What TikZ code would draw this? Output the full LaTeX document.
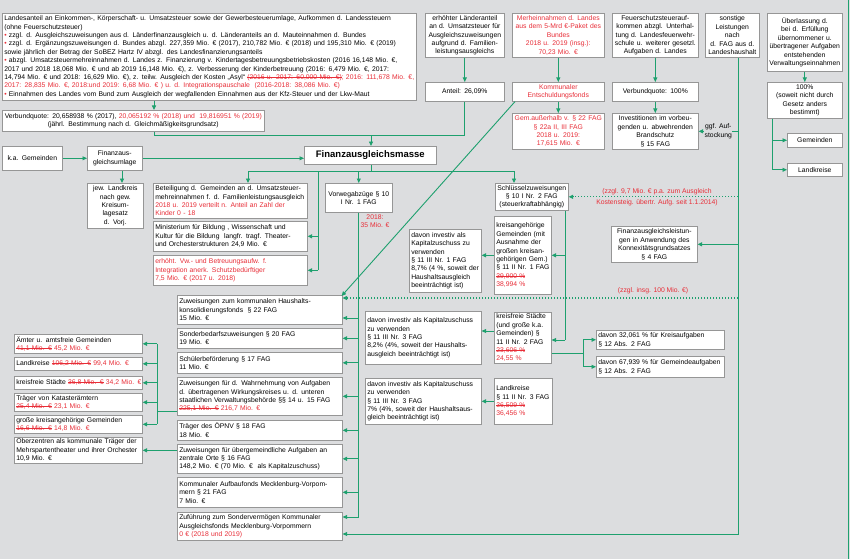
\documentclass[tikz,border=0pt]{standalone}
\usepackage{fontspec}
\setmainfont{Liberation Sans}
\usetikzlibrary{arrows.meta,calc}
\definecolor{bg}{RGB}{220,221,223}
\definecolor{grn}{RGB}{30,160,110}
\definecolor{rd}{RGB}{232,45,55}
\definecolor{bd}{RGB}{150,150,150}
\newcommand\myfs{\fontsize{6.8}{8.4}\selectfont\hyphenpenalty=10000\exhyphenpenalty=10000\relax}
\newcommand\rt[1]{\textcolor{rd}{#1}}
\newsavebox\mystbox
\newcommand\rs[1]{\textcolor{rd}{\sbox\mystbox{#1}\rlap{\rule[0.3em]{\wd\mystbox}{0.5pt}}\usebox\mystbox}}
\begin{document}
\begin{tikzpicture}[x=1pt,y=-1pt,
  bx/.style={draw=bd, fill=white, line width=0.6pt, anchor=north west, inner xsep=2pt, inner ysep=1pt, font=\myfs, align=left},
  cb/.style={bx, align=center},
  wh/.code 2 args={\pgfmathsetlengthmacro\mytw{#1pt-4pt}\edef\mytmp{\noexpand\tikzset{minimum width=#1pt,minimum height=#2pt,text width=\mytw}}\mytmp},
  ln/.style={draw=grn, line width=0.9pt},
  ar/.style={ln, -{Triangle[length=4.5pt,width=4pt]}},
  dar/.style={ar, dash pattern=on 1.2pt off 1.8pt, line width=1.1pt},
  rl/.style={font=\myfs, text=rd, align=center, inner sep=0pt},
  lab/.style={font=\myfs, align=center, fill=bg, inner sep=0.5pt}]
\fill[bg] (0,0) rectangle (850,559);
\useasboundingbox (0,0) rectangle (850,559);

% ---------- top row ----------
\node[bx,wh={414}{87}] (A) at (2,13) {Landesanteil an Einkommen-, Körperschaft- u. Umsatzsteuer sowie der Gewerbesteuerumlage, Aufkommen d. Landessteuern\\
(ohne Feuerschutzsteuer)\\
\rt{•} zzgl. d. Ausgleichszuweisungen aus d. Länderfinanzausgleich u. d. Länderanteils an d. Mauteinnahmen d. Bundes\\
\rt{•} zzgl. d. Ergänzungszuweisungen d. Bundes abzgl. 227,359 Mio. € (2017), 210,782 Mio. € (2018) und 195,310 Mio. € (2019)\\
sowie jährlich der Betrag der SoBEZ Hartz IV abzgl. des Landesfinanzierungsanteils\\
\rt{•} abzgl. Umsatzsteuermehreinnahmen d. Landes z. Finanzierung v. Kindertagesbetreuungsbetriebskosten (2016 16,148 Mio. €,\\
2017 und 2018 18,068 Mio. € und ab 2019 16,148 Mio. €), z. Verbesserung der Kinderbetreuung (2016: 6,479 Mio. €, 2017:\\
\mbox{14,794 Mio. € und 2018: 16,629 Mio. €), z. teilw. Ausgleich der Kosten „Asyl“ \rs{(2016 u. 2017: 60,000 Mio. €)}\rt{; 2016: 111,678 Mio. €,}}\\
\rt{2017: 28,835 Mio. €, 2018:und 2019: 6,68 Mio. € ) u. d. Integrationspauschale\ \ (2016-2018: 38,086 Mio. €)}\\
\rt{•} Einnahmen des Landes vom Bund zum Ausgleich der wegfallenden Einnahmen aus der Kfz-Steuer und der Lkw-Maut};

\node[cb,wh={262}{21}] (VQ) at (2,110) {Verbundquote: 20,658938 \% (2017), \rt{20,065192 \% (2018) und\ \ 19,816951 \% (2019)}\\ (jährl. Bestimmung nach d. Gleichmäßigkeitsgrundsatz)};

\node[cb,wh={79}{44}] (B1) at (425,13) {erhöhter Länderanteil\\ an d. Umsatzsteuer für\\ Ausgleichszuweisungen\\ aufgrund d. Familien-\\ leistungsausgleichs};
\node[cb,wh={79}{19}] (B2) at (425,82) {Anteil: 26,09\%};
\node[cb,wh={92}{44},text=rd] (B3) at (512,13) {Merheinnahmen d. Landes\\ aus dem 5-Mrd €-Paket des\\ Bundes\\ 2018 u. 2019 (insg.):\\ 70,23 Mio. €};
\node[cb,wh={92}{19},text=rd] (B4) at (512,82) {Kommunaler\\ Entschuldungsfonds};
\node[cb,wh={92}{36},text=rd] (B5) at (512,113) {Gem.außerhalb v. § 22 FAG\\ § 22a II, III FAG\\ 2018 u. 2019:\\ 17,615 Mio. €};
\node[cb,wh={86}{44}] (B6) at (612,13) {Feuerschutzsteuerauf-\\ kommen abzgl. Unterhal-\\ tung d. Landesfeuerwehr-\\ schule u. weiterer gesetzl.\\ Aufgaben d. Landes};
\node[cb,wh={86}{19}] (B7) at (612,82) {Verbundquote: 100\%};
\node[cb,wh={86}{36}] (B8) at (612,113) {Investitionen im vorbeu-\\ genden u. abwehrenden\\ Brandschutz\\ § 15 FAG};
\node[cb,wh={54}{44}] (B9) at (705,13) {sonstige\\ Leistungen nach\\ d. FAG aus d.\\ Landeshaushalt};
\node[cb,wh={75}{58}] (B10) at (767,13) {Überlassung d.\\ bei d. Erfüllung\\ übernommener u.\\ übertragener Aufgaben\\ entstehenden\\ Verwaltungseinnahmen};
\node[cb,wh={75}{36}] (B11) at (767,82) {100\%\\ (soweit nicht durch\\ Gesetz anders\\ bestimmt)};
\node[cb,wh={55}{14}] (B12) at (787,133) {Gemeinden};
\node[cb,wh={55}{13}] (B13) at (787,163) {Landkreise};

% ---------- middle ----------
\node[cb,wh={60}{24}] (KA) at (2,146) {k.a. Gemeinden};
\node[cb,wh={55}{24}] (UM) at (87,146) {Finanzaus-\\ gleichsumlage};
\node[cb,wh={56}{45}] (JL) at (87,183) {jew. Landkreis\\ nach gew.\\ Kreisum-\\ lagesatz\\ d. Vorj.};
\node[cb,wh={132}{18},font=\bfseries\fontsize{9.5}{11}\selectfont] (FAM) at (304,146) {Finanzausgleichsmasse};

\node[bx,wh={154}{35}] (BT) at (153,183) {Beteiligung d. Gemeinden an d. Umsatzsteuer-\\ \mbox{mehreinnahmen f. d. Familienleistungsausgleich}\\ \rt{2018 u. 2019 verteilt n. Anteil an Zahl der}\\ \rt{Kinder 0 - 18}};
\node[bx,wh={154}{30}] (MI) at (153,221) {Ministerium für Bildung , Wissenschaft und\\ Kultur für die Bildung\ \ langfr. tragf. Theater-\\ und Orchesterstrukturen 24,9 Mio. €};
\node[bx,wh={154}{30},text=rd] (ER) at (153,255) {erhöht. Vw.- und Betreuungsaufw. f.\\ Integration anerk. Schutzbedürftiger\\ 7,5 Mio. € (2017 u. 2018)};
\node[cb,wh={67}{29}] (VW) at (325,183) {Vorwegabzüge § 10\\ I Nr. 1 FAG};
\node[cb,wh={73}{27}] (SZ) at (495,183) {Schlüsselzuweisungen\\ § 10 I Nr. 2 FAG\\ (steuerkraftabhängig)};
\node[bx,wh={57}{78}] (KG) at (494,216) {kreisangehörige\\ Gemeinden (mit\\ Ausnahme der\\ großen kreisan-\\ gehörigen Gem.)\\ \mbox{§ 11 II Nr. 1 FAG}\\ \rs{39,900 \%}\\ \rt{38,994 \%}};
\node[bx,wh={72}{63}] (DI1) at (409,229) {davon investiv als\\ Kapitalzuschuss zu\\ verwenden\\ \mbox{§ 11 III Nr. 1 FAG}\\ \mbox{8,7\% (4 \%, soweit der}\\ Haushaltsausgleich\\ beeinträchtigt ist)};
\node[bx,wh={57}{51}] (KF) at (494,312) {kreisfreie Städte\\ (und große k.a.\\ Gemeinden) §\\ \mbox{11 II Nr. 2 FAG}\\ \rs{23,606 \%}\\ \rt{24,55 \%}};
\node[bx,wh={116}{53}] (DI2) at (365,311) {davon investiv als Kapitalzuschuss\\ zu verwenden\\ § 11 III Nr. 3 FAG\\ \mbox{8,2\% (4\%, soweit der Haushalts-}\\ ausgleich beeinträchtigt ist)};
\node[bx,wh={58}{46}] (LK2) at (494,378) {Landkreise\\ \mbox{§ 11 II Nr. 3 FAG}\\ \rs{36,509 \%}\\ \rt{36,456 \%}};
\node[bx,wh={116}{46}] (DI3) at (365,378) {davon investiv als Kapitalzuschuss\\ zu verwenden\\ § 11 III Nr. 3 FAG\\ \mbox{7\% (4\%, soweit der Haushaltsaus-}\\ gleich beeinträchtigt ist)};
\node[bx,wh={128}{19}] (P1) at (596,330) {davon 32,061 \% für Kreisaufgaben\\ § 12 Abs. 2 FAG};
\node[bx,wh={128}{21}] (P2) at (596,356) {\mbox{davon 67,939 \% für Gemeindeaufgaben}\\ § 12 Abs. 2 FAG};
\node[cb,wh={86}{36}] (FL) at (611,226) {Finanzausgleichsleistun-\\ gen in Anwendung des\\ Konnexitätsgrundsatzes\\ § 4 FAG};

% ---------- main column ----------
\node[bx,wh={165}{29}] (HK) at (177,295) {Zuweisungen zum kommunalen Haushalts-\\ konsolidierungsfonds\ \ § 22 FAG\\ 15 Mio. €};
\node[bx,wh={165}{20}] (SB) at (177,328) {Sonderbedarfszuweisungen § 20 FAG\\ 19 Mio. €};
\node[bx,wh={165}{21}] (SF) at (177,352) {Schülerbeförderung § 17 FAG\\ 11 Mio. €};
\node[bx,wh={165}{38}] (WA) at (177,377) {\mbox{Zuweisungen für d. Wahrnehmung von Aufgaben}\\ \mbox{d. übertragenen Wirkungskreises u. d. unteren}\\ \mbox{staatlichen Verwaltungsbehörde §§ 14 u. 15 FAG}\\ \rs{225,1 Mio. €} \rt{216,7 Mio. €}};
\node[bx,wh={165}{20}] (OP) at (177,420) {Träger des ÖPNV § 18 FAG\\ 18 Mio. €};
\node[bx,wh={165}{29}] (UG) at (177,444) {\mbox{Zuweisungen für übergemeindliche Aufgaben an}\\ zentrale Orte § 16 FAG\\ \mbox{148,2 Mio. € (70 Mio. €\ \ als Kapitalzuschuss)}};
\node[bx,wh={165}{30}] (AF) at (177,477) {\mbox{Kommunaler Aufbaufonds Mecklenburg-Vorpom-}\\ mern § 21 FAG\\ 7 Mio. €};
\node[bx,wh={165}{28}] (ZF) at (177,512) {Zuführung zum Sondervermögen Kommunaler\\ Ausgleichsfonds Mecklenburg-Vorpommern\\ \rt{0 € (2018 und 2019)}};

% ---------- left column ----------
\node[bx,wh={128}{19}] (AM) at (14,334) {Ämter u. amtsfreie Gemeinden\\ \rs{41,1 Mio. €} \rt{45,2 Mio. €}};
\node[bx,wh={128}{13}] (LK1) at (14,357) {\mbox{Landkreise \rs{106,2 Mio. €} \rt{99,4 Mio. €}}};
\node[bx,wh={128}{13}] (KS) at (14,376) {\mbox{kreisfreie Städte \rs{36,8 Mio. €} \rt{34,2 Mio. €}}};
\node[bx,wh={128}{18}] (TK) at (14,393) {Träger von Katasterämtern\\ \rs{25,4 Mio. €} \rt{23,1 Mio. €}};
\node[bx,wh={128}{18}] (GK) at (14,415) {\mbox{große kreisangehörige Gemeinden}\\ \rs{16,6 Mio. €} \rt{14,8 Mio. €}};
\node[bx,wh={128}{26}] (OZ) at (14,437) {\mbox{Oberzentren als kommunale Träger der}\\ \mbox{Mehrspartentheater und ihrer Orchester}\\ 10,9 Mio. €};

% ---------- labels ----------
\node[rl] (L1) at (657,192) {(zzgl. 9,7 Mio. € p.a. zum Ausgleich};
\node[rl] (L2) at (657,203) {Kostensteig. übertr. Aufg. seit 1.1.2014)};
\node[rl] (L3) at (653,291) {(zzgl. insg. 100 Mio. €)};
\node[rl] (L4) at (375,221) {2018:\\ 35 Mio. €};

% ---------- reference coordinates ----------
\coordinate (xA) at (154,0);
\coordinate (jn) at (371,135);
\coordinate (xB) at (772,0);
\coordinate (xS) at (738,0);
\coordinate (yZ) at (0,534);
\coordinate (yH) at (0,298);
\coordinate (xU) at (122,0);
\coordinate (yD) at (0,171);
\coordinate (xBT) at (248,0);
\coordinate (xSZ) at (514,0);
\coordinate (xM) at (318,0);
\coordinate (yZ2) at (0,517);
\coordinate (yHK) at (0,318);
\coordinate (xK) at (565,0);
\coordinate (yKF) at (0,340);
\coordinate (yK2) at (0,331);
\coordinate (xP) at (583,0);
\coordinate (yP) at (0,353);
\coordinate (xL) at (157,0);
\coordinate (yW) at (0,411);
\coordinate (e1) at (848,0);
\coordinate (e2) at (848,559);

% ---------- connectors ----------
\draw[ar] (A.south -| xA) -- (VQ.north -| xA);
\draw[ln] (VQ.south -| xA) |- (jn);
\draw[ln] (B2.south) |- (jn);
\draw[ar] (jn) -- (FAM.north -| jn);
\draw[ar] (B1) -- (B2);
\draw[ar] (B3) -- (B4);
\draw[ar] (B4) -- (B5);
\draw[ar] (B6) -- (B7);
\draw[ar] (B7) -- (B8);
\draw[ar] (B10) -- (B11);
\draw[ar] (B11.south -| xB) |- (B13.west);
\draw[ar] (B12.west -| xB) -- (B12.west);

\draw[ar] (B9.south -| xS) -- (xS |- yZ) -- (ZF.east |- yZ);
\draw[ar] (B8.east -| xS) -- node[lab] (GA) {ggf. Auf-\\ stockung} (B8.east);
\draw[ar] (FL.east -| xS) -- (FL.east);
\draw[dar] (SZ.east -| xS) -- (SZ.east);
\draw[dar] (xS |- yH) -- (HK.east |- yH);

\draw[ar] ($(B4.south west)+(3,0)$) -- ($(HK.north east)+(-1,1)$);

\draw[ar] (KA.east) -- (KA.east -| UM.west);
\draw[ar] (UM.east) -- (UM.east -| FAM.west);
\draw[ar] (UM.south -| xU) -- (JL.north -| xU);

\draw[ln] (FAM.south -| jn) -- (jn |- yD);
\draw[ln] (xBT |- yD) -- (xSZ |- yD);
\draw[ar] (xBT |- yD) -- (BT.north -| xBT);
\draw[ar] (VW.north |- yD) -- (VW.north);
\draw[ar] (xSZ |- yD) -- (SZ.north -| xSZ);
\draw[ln] (xM |- yD) -- (xM |- ER.east);
\draw[ar] (xM |- MI.east) -- (MI.east);
\draw[ar] (xM |- ER.east) -- (ER.east);

\draw[ar] (VW.south) -- (VW.south |- yZ2) -- (ZF.east |- yZ2);
\draw[ar] (VW.south |- yHK) -- (HK.east |- yHK);
\foreach \n in {SB,SF,WA,OP,UG,AF} \draw[ar] (VW.south |- \n.east) -- (\n.east);

\draw[ln] (SZ.south -| xK) -- (xK |- yKF);
\draw[ar] (xK |- yKF) -- (KF.east |- yKF);
\draw[ar] (xK |- KG.east) -- (KG.east);
\draw[ar] (KG.west) -- (KG.west -| DI1.east);
\draw[ar] (KF.west |- yK2) -- (DI2.east |- yK2);
\draw[ar] (LK2.west) -- (LK2.west -| DI3.east);
\draw[ln] (KF.east |- yP) -- (xP |- yP);
\draw[ln] (xP |- P1.west) -- (xP |- P2.west);
\draw[ar] (xP |- P1.west) -- (P1.west);
\draw[ar] (xP |- P2.west) -- (P2.west);

\draw[ln] (WA.west |- yW) -- (xL |- yW);
\draw[ln] (xL |- AM.east) -- (xL |- GK.east);
\foreach \n in {AM,LK1,KS,TK,GK} \draw[ar] (xL |- \n.east) -- (\n.east);
\draw[ar] (UG.west |- OZ.east) -- (OZ.east);

\draw[ln] (e1) -- (e2);
\end{tikzpicture}
\end{document}
